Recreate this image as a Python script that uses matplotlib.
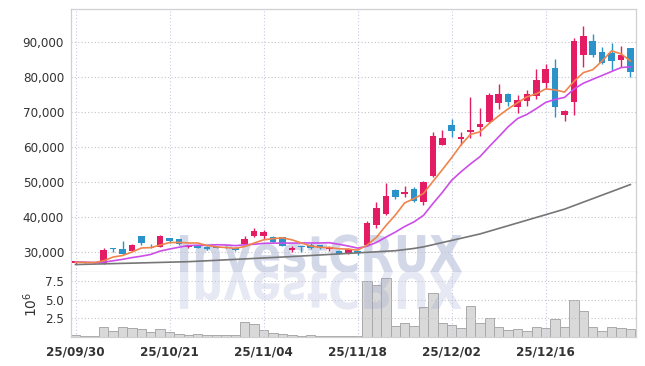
import matplotlib
matplotlib.use("Agg")
import matplotlib.pyplot as plt
import numpy as np
from matplotlib.textpath import TextPath
from matplotlib.patches import PathPatch
from matplotlib.font_manager import FontProperties
from matplotlib.transforms import Affine2D, IdentityTransform
from matplotlib.ticker import FuncFormatter

# daily candles (KRW)
opens = [26900, 27000, 27200, 27100, 31100, 31000, 30500, 34600, 31600, 31600,
         34000, 33700, 31400, 31900, 31600, 31500, 31500, 31300, 32500, 34700,
         34600, 34400, 34300, 30600, 31600, 32100, 32000, 31000, 30500, 29700,
         30400, 32000, 37700, 40800, 47800, 46500, 48000, 44300, 51700, 60600,
         66300, 62400, 64400, 65800, 67000, 72400, 75000, 71500, 73200, 74600,
         78200, 82500, 69000, 72700, 86300, 90200, 87100, 86900, 84800, 88200]
highs = [27600, 27300, 27300, 31200, 31300, 33300, 32500, 34600, 32500, 34800,
         34100, 33800, 32100, 32000, 31700, 31700, 31700, 31400, 34700, 37000,
         36400, 34600, 34500, 31700, 31700, 32700, 32200, 31800, 30600, 31100,
         30500, 38800, 44400, 49700, 48000, 49000, 48600, 50400, 64300, 64800,
         67900, 64300, 74100, 71200, 75400, 77800, 75500, 74800, 76300, 82100,
         83600, 85000, 70400, 90900, 94500, 92200, 88400, 89700, 88800, 88300]
lows = [26700, 26900, 26800, 26800, 30100, 29500, 30300, 32000, 31200, 31400,
        32600, 32000, 31200, 31100, 30600, 31200, 31200, 30400, 32300, 34500,
        33900, 32800, 31700, 30200, 30200, 30900, 30900, 30500, 29400, 29400,
        29100, 31800, 37000, 40600, 45100, 45800, 44300, 43500, 51500, 60500,
        62900, 60700, 62500, 63100, 66700, 70800, 71700, 69800, 71700, 73600,
        76400, 68500, 67500, 69100, 82900, 85700, 83600, 81800, 82900, 80000]
closes = [27400, 27200, 26900, 30800, 31000, 29600, 32100, 32700, 31300, 34600,
          33200, 32300, 31900, 31300, 31000, 31300, 31300, 30800, 33900, 36000,
          35800, 33000, 31900, 31200, 31500, 31300, 31200, 31600, 29500, 31000,
          29800, 38400, 42700, 46100, 45900, 47300, 44500, 50000, 63100, 62700,
          64500, 62900, 64800, 66600, 74800, 75200, 72900, 73400, 75100, 79100,
          82200, 71500, 70300, 90300, 91600, 86300, 84000, 84600, 86200, 81500]

# moving averages as drawn
ma5 = [27200, 27100, 27100, 27600, 28660, 29100, 30080, 31240, 31340, 32060,
       32780, 32820, 32660, 32660, 31940, 31560, 31360, 31140, 31660, 32660,
       33560, 33900, 34120, 33580, 32680, 31780, 31420, 31360, 31020, 30920,
       30620, 32060, 34280, 37600, 40580, 44080, 45300, 46760, 50160, 53520,
       56960, 60640, 63600, 64300, 66720, 68860, 70860, 72580, 74280, 75140,
       76540, 76260, 75640, 78680, 81180, 82000, 84500, 87360, 86540, 84520]
ma10 = [27300, 27200, 27100, 27200, 27600, 28000, 28500, 28900, 29400, 30360,
        30940, 31450, 31950, 32000, 32000, 32170, 32090, 31900, 32160, 32300,
        32560, 32630, 32630, 32620, 32670, 32670, 32660, 32740, 32300, 31800,
        31200, 31740, 32820, 34310, 35750, 37350, 38680, 40520, 43880, 47050,
        50520, 52970, 55180, 57230, 60120, 62910, 65750, 68090, 69290, 70930,
        72700, 73560, 74110, 76480, 78160, 79270, 80380, 81500, 82610, 82850]
ma60 = [26520, 26590, 26660, 26720, 26790, 26860, 26920, 26990, 27060, 27130,
        27200, 27270, 27340, 27470, 27600, 27730, 27870, 28000, 28130, 28260,
        28400, 28530, 28660, 28800, 28950, 29100, 29250, 29400, 29550, 29700,
        29850, 30000, 30150, 30300, 30460, 30780, 31110, 31560, 32170, 32780,
        33390, 34000, 34620, 35230, 36010, 36800, 37580, 38370, 39150, 39940,
        40720, 41510, 42300, 43300, 44300, 45300, 46300, 47300, 48300, 49300]

# volume, millions of shares
volumes = [0.27, 0.10, 0.12, 1.32, 0.80, 1.32, 1.20, 1.07, 0.67, 1.07,
           0.65, 0.38, 0.27, 0.38, 0.27, 0.22, 0.22, 0.22, 1.97, 1.70,
           0.90, 0.49, 0.36, 0.22, 0.13, 0.22, 0.13, 0.13, 0.10, 0.10,
           0.10, 7.50, 7.00, 7.90, 1.48, 1.84, 1.48, 4.00, 5.85, 1.84,
           1.57, 1.18, 4.12, 1.84, 2.50, 1.30, 0.90, 1.03, 0.76, 1.30,
           1.16, 2.42, 1.30, 4.93, 3.55, 1.30, 0.76, 1.30, 1.16, 1.03]

tick_pos = [0, 10, 20, 30, 40, 50]
tick_labels = ["25/09/30", "25/10/21", "25/11/04", "25/11/18", "25/12/02", "25/12/16"]

UP = "#e31c64"
DOWN = "#2b93c9"
W, H = 645, 366

fig = plt.figure(figsize=(W / 100, H / 100), dpi=100)
ax = fig.add_axes([71 / W, (H - 272) / H, 565 / W, 263 / H])
axv = fig.add_axes([71 / W, (H - 337) / H, 565 / W, 65 / H], sharex=ax)

x = np.arange(len(closes))
o = np.array(opens)
c = np.array(closes)
up = c >= o
colors = np.where(up, UP, DOWN)

# grid: under the candles in the price pane, over the bars in the volume pane
ax.set_axisbelow(True)
axv.set_axisbelow(False)
for a in (ax, axv):
    a.grid(axis="y", color="#c4c4cc", linestyle=(0, (1, 2)), linewidth=0.8)
    a.grid(axis="x", color="#c6cbe2", linestyle=(0, (1, 2)), linewidth=0.8)

# candles
ax.vlines(x, lows, highs, colors=colors, linewidth=1.0, zorder=2)
body_lo = np.minimum(o, c)
body_h = np.maximum(np.abs(c - o), 180)
ax.bar(x, body_h, bottom=body_lo, width=0.7, color=colors, linewidth=0, zorder=3)

ax.plot(x, ma60, color="#767676", linewidth=1.2, zorder=4)
ax.plot(x, ma10, color="#cc4de8", linewidth=1.2, zorder=4)
ax.plot(x, ma5, color="#f0844a", linewidth=1.2, zorder=4)

ax.set_xlim(-0.48, 59.6)
ax.set_ylim(24400, 99300)
ax.set_yticks(range(30000, 90001, 10000))
ax.yaxis.set_major_formatter(FuncFormatter(lambda v, p: f"{int(v):,}"))

axv.bar(x, volumes, width=1.0, color="#d9d9d9", edgecolor="#a9a9a9", linewidth=0.7, zorder=1)
axv.set_ylim(0, 8.74)
axv.set_yticks([2.5, 5.0, 7.5])
axv.set_ylabel(r"$10^6$", fontsize=10, color="#333333", labelpad=4)

axv.set_xticks(tick_pos)
axv.set_xticklabels(tick_labels)
plt.setp(ax.get_xticklabels(), visible=False)

tick_font = dict(family="DejaVu Sans", stretch="condensed", size=9.5)
for a in (ax, axv):
    a.tick_params(length=0, pad=5, colors="#333333")
    for lab in a.get_yticklabels():
        lab.set_fontproperties(FontProperties(**tick_font))
    for s in a.spines.values():
        s.set_color("#d0d0d0")
        s.set_linewidth(0.9)
ax.spines["bottom"].set_color("#b8b8b8")
axv.spines["top"].set_visible(False)
for lab in axv.get_xticklabels():
    lab.set_fontproperties(FontProperties(family="DejaVu Sans", stretch="condensed", weight="bold", size=9.5))
axv.tick_params(axis="x", pad=6)

# watermark and its reflection
wm_font = FontProperties(family="DejaVu Sans", weight="bold", stretch="condensed")
tp = TextPath((0, 0), "InvestCRUX", size=50, prop=wm_font)
ext = tp.get_extents()
sx = 282 / ext.width
sy = 37 / 36.5
base = H - 272
mark = Affine2D().translate(-ext.x0, 0).scale(sx, sy).translate(180, base)
ax.add_patch(PathPatch(tp, transform=mark + IdentityTransform(), facecolor="#d3d8e9",
                       edgecolor="none", zorder=0.2))
mirror = Affine2D().translate(-ext.x0, 0).scale(sx, -sy).translate(180, base)
axv.add_patch(PathPatch(tp, transform=mirror + IdentityTransform(), facecolor="#8e9bc9",
                        edgecolor="none", alpha=0.22, zorder=1.5))

fig.savefig("out.png", dpi=100)
